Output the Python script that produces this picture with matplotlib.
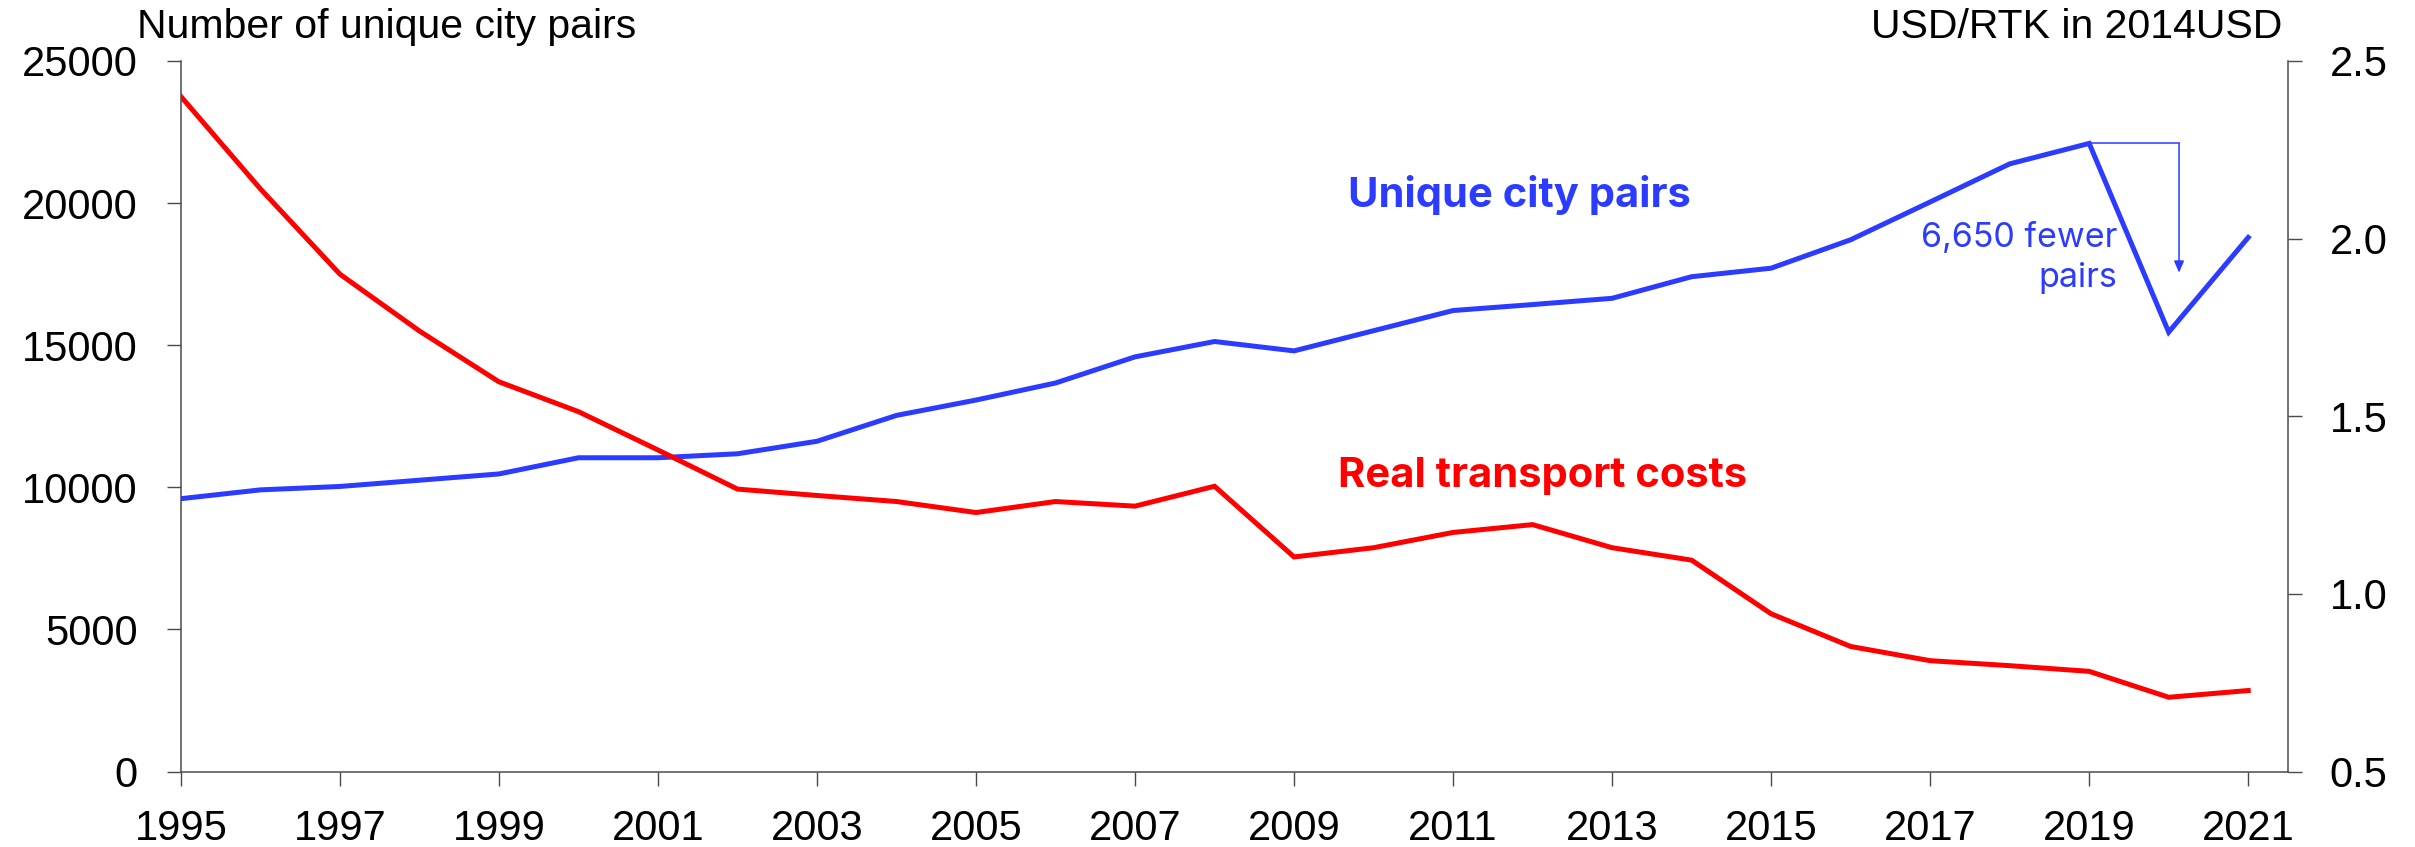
import matplotlib
matplotlib.use("Agg")
import matplotlib.pyplot as plt

# data
years = list(range(1995, 2022))
city_pairs = [9600, 9910, 10030, 10250, 10470, 11040, 11040, 11180, 11620, 12530,
              13070, 13670, 14590, 15130, 14800, 15510, 16220, 16430, 16650, 17410,
              17710, 18710, 20040, 21380, 22100, 15460, 18790]
transport_cost = [2.40, 2.14, 1.90, 1.74, 1.597, 1.513, 1.405, 1.295, 1.277, 1.26,
                  1.229, 1.26, 1.247, 1.303, 1.104, 1.13, 1.173, 1.195, 1.13, 1.095,
                  0.944, 0.852, 0.812, 0.798, 0.782, 0.709, 0.728]
xticks = list(range(1995, 2022, 2))
left_ticks = [0, 5000, 10000, 15000, 20000, 25000]
right_ticks = [0.5, 1.0, 1.5, 2.0, 2.5]

blue = "#2b3bff"
red = "#ff0000"
axis_grey = "#4a4a4a"

plt.rcParams["font.family"] = ["Liberation Sans", "DejaVu Sans"]

fig = plt.figure(figsize=(24.15, 8.47), dpi=100)
ax1 = fig.add_axes([0.0749, 0.0891, 0.9474 - 0.0749, 0.9280 - 0.0891])
ax2 = ax1.twinx()

ax1.plot(years, city_pairs, color=blue, lw=3.6, solid_joinstyle="miter")
ax2.plot(years, transport_cost, color=red, lw=3.6, solid_joinstyle="miter")

ax1.set_xlim(1995, 2021.5)
ax1.set_ylim(0, 25000)
ax2.set_ylim(0.5, 2.5)
ax1.set_xticks(xticks)
ax1.set_yticks(left_ticks)
ax2.set_yticks(right_ticks)
ax2.set_yticklabels([f"{v:.1f}" for v in right_ticks])

for a in (ax1, ax2):
    a.spines["top"].set_visible(False)
    for s in a.spines.values():
        s.set_color(axis_grey)
        s.set_linewidth(1.1)
ax1.spines["right"].set_visible(False)
ax2.spines["left"].set_visible(False)
ax2.spines["bottom"].set_visible(False)

ax1.tick_params(axis="x", direction="out", length=10, width=1, color=axis_grey,
                labelsize=30, pad=17)
ax1.tick_params(axis="y", direction="out", length=10, width=1, color=axis_grey,
                labelsize=30, pad=21)
ax2.tick_params(axis="y", direction="out", length=10, width=1, color=axis_grey,
                labelsize=30, pad=20)

fig.text(0.0567, 0.955, "Number of unique city pairs", fontsize=29.5,
         ha="left", va="baseline")
fig.text(0.9450, 0.955, "USD/RTK in 2014USD", fontsize=29.5,
         ha="right", va="baseline")

# series labels
ax1.text(2011.83, 19852, "Unique city pairs", color=blue, fontsize=30,
         fontweight="bold", family=["Inter", "DejaVu Sans"], ha="center", va="baseline")
ax1.text(2012.12, 10021, "Real transport costs", color=red, fontsize=30,
         fontweight="bold", family=["Inter", "DejaVu Sans"], ha="center", va="baseline")

# drop annotation
peak = city_pairs[years.index(2019)]
ax1.plot([2019, 2020.13], [peak, peak], color=blue, lw=1.1)
ax1.annotate("", xy=(2020.13, 17550), xytext=(2020.13, peak),
             arrowprops=dict(arrowstyle="-|>,head_length=0.7,head_width=0.3",
                             color=blue, lw=1.1, shrinkA=0, shrinkB=0))
ax1.text(2019.35, 18080, "6,650 fewer\npairs", color=blue, fontsize=24.5,
         family=["Inter", "DejaVu Sans"], ha="right", va="center",
         multialignment="right", linespacing=1.32)

fig.savefig("out.png", dpi=100)
